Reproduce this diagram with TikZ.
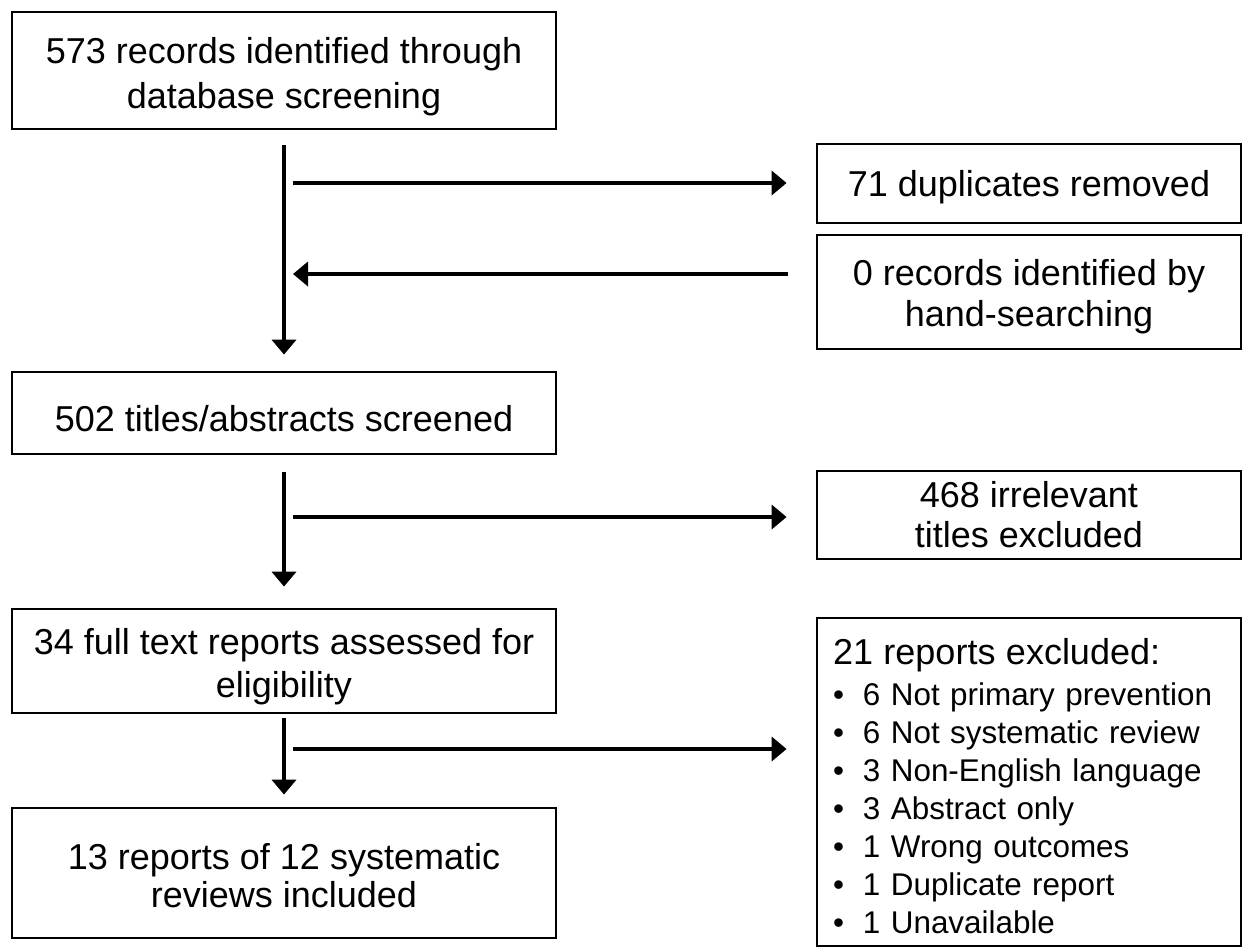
\documentclass[tikz,border=0pt]{standalone}
\usepackage{fontspec}
\setmainfont{Liberation Sans}
\usetikzlibrary{arrows.meta,calc}
\newcommand\txtdown[1]{\rule{0pt}{\dimexpr 13.3pt+#1*2\relax}}
\begin{document}
\begin{tikzpicture}[x=0.5pt,y=-0.5pt,
  box/.style={draw, line width=1.4pt, inner sep=0pt, align=center,
    font=\fontsize{18}{20.5}\selectfont},
  lbox/.style={box, minimum width=272pt},
  rbox/.style={box, minimum width=212pt},
  arr/.style={line width=2.2pt, -{Triangle[length=7.5pt,width=12pt]}}]
\useasboundingbox (0,0) rectangle (1244,949);
% left column
\node[lbox, minimum height=58.5pt, font=\fontsize{18}{22.5}\selectfont] (rec) at (284,70.5)
  {\txtdown{3pt}573 records identified through\\database screening};
\node[lbox, minimum height=41pt] (scr) at (284,413) {\txtdown{2.5pt}502 titles/abstracts screened};
\node[lbox, minimum height=52pt, font=\fontsize{18}{21.5}\selectfont] (full) at (284,661)
  {\txtdown{2.5pt}34 full text reports assessed for\\eligibility};
\node[lbox, minimum height=65pt, font=\fontsize{18}{19}\selectfont] (inc) at (284,873)
  {\txtdown{1pt}13 reports of 12 systematic\\reviews included};
% right column
\node[rbox, minimum height=39.5pt] (dup) at (1029,183.5) {\txtdown{1.5pt}71 duplicates removed};
\node[rbox, minimum height=57pt] (hand) at (1029,292) {\txtdown{2pt}0 records identified by\\hand-searching};
\node[rbox, minimum height=44pt, font=\fontsize{18}{20}\selectfont] (irr) at (1029,515)
  {468 irrelevant\\titles excluded};
\node[rbox, minimum height=164pt, text width=196pt, inner xsep=8pt, align=left,
  font=\fontsize{15.7}{19}\selectfont] (exc) at (1029,782)
  {{\fontsize{18}{19}\selectfont\txtdown{2pt}21 reports excluded:}\\[1.5pt]
   \makebox[15pt][l]{•}6 Not primary prevention\\
   \makebox[15pt][l]{•}6 Not systematic review\\
   \makebox[15pt][l]{•}3 Non-English language\\
   \makebox[15pt][l]{•}3 Abstract only\\
   \makebox[15pt][l]{•}1 Wrong outcomes\\
   \makebox[15pt][l]{•}1 Duplicate report\\
   \makebox[15pt][l]{•}1 Unavailable};
% vertical arrows
\draw[arr, shorten <=7.5pt, shorten >=8pt] (rec.south) -- (scr.north);
\draw[arr, shorten <=8.5pt, shorten >=10.5pt] (scr.south) -- (full.north);
\draw[arr, shorten <=2pt, shorten >=6pt] (full.south) -- (inc.north);
% horizontal arrows
\coordinate (h1) at (293,183);
\coordinate (h2s) at (788,274);
\coordinate (h2) at (293,274);
\coordinate (h3) at (293,517);
\coordinate (h4) at (293,749);
\draw[arr, shorten >=14.5pt] (h1) -- (h1 -| dup.west);
\draw[arr] (h2s) -- (h2);
\draw[arr, shorten >=14.5pt] (h3) -- (h3 -| irr.west);
\draw[arr, shorten >=14.5pt] (h4) -- (h4 -| exc.west);
\end{tikzpicture}
\end{document}
